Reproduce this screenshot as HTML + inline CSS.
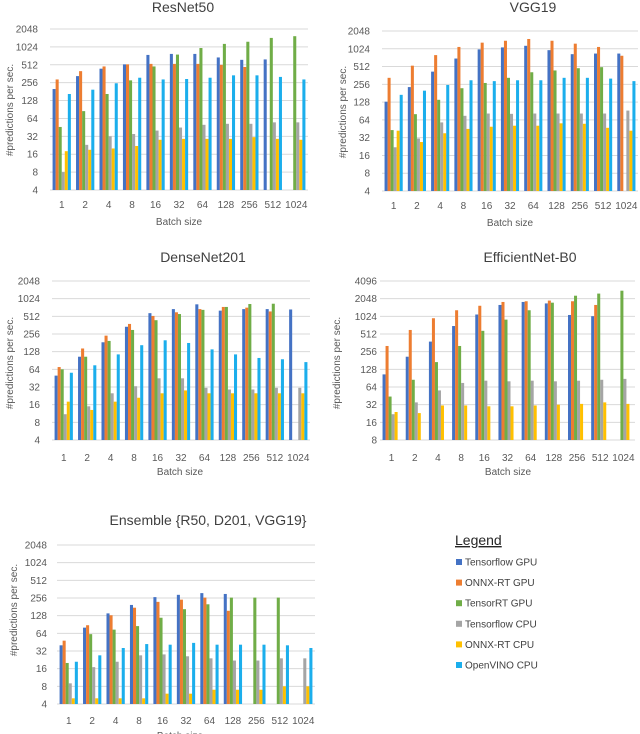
<!DOCTYPE html>
<html><head><meta charset="utf-8">
<style>
html,body{margin:0;padding:0;background:#fff;}
svg{display:block;font-family:"Liberation Sans",sans-serif;}
</style></head>
<body>
<svg id="chart" width="640" height="734" viewBox="0 0 640 734" xmlns="http://www.w3.org/2000/svg"></svg>
<script>
const batchSizes = ["1","2","4","8","16","32","64","128","256","512","1024"];
const seriesNames = ["Tensorflow GPU","ONNX-RT GPU","TensorRT GPU","Tensorflow CPU","ONNX-RT CPU","OpenVINO CPU"];

const r50TfGpu   = [200,330,440,520,750,780,780,680,620,630,null];
const r50OnnxGpu = [290,400,480,520,530,530,530,510,470,null,null];
const r50TrtGpu  = [46,85,165,280,480,760,980,1150,1250,1450,1550];
const r50TfCpu   = [8,23,32,35,40,45,50,52,52,55,55];
const r50OnnxCpu = [18,19,20,22,28,29,29,29,31,29,28];
const r50OvCpu   = [165,195,250,310,290,295,310,340,340,320,290];

const vggTfGpu   = [130,230,420,700,1000,1080,1150,970,830,850,850];
const vggOnnxGpu = [330,530,800,1100,1300,1400,1500,1400,1250,1100,780];
const vggTrtGpu  = [43,80,140,220,270,330,410,440,480,500,null];
const vggTfCpu   = [22,31,58,75,82,81,82,82,82,82,92];
const vggOnnxCpu = [42,27,38,45,49,51,51,56,55,47,42];
const vggOvCpu   = [170,200,250,300,290,300,300,330,330,320,290];

const d201TfGpu   = [50,105,185,340,580,680,820,640,680,680,670];
const d201OnnxGpu = [70,145,240,380,520,600,680,740,720,620,null];
const d201TrtGpu  = [64,105,195,300,440,560,660,740,830,840,null];
const d201TfCpu   = [11,15,25,33,45,45,31,29,29,31,31];
const d201OnnxCpu = [18,13,18,21,25,28,25,25,25,25,25];
const d201OvCpu   = [56,75,115,165,200,180,140,115,100,95,85];

const effTfGpu   = [105,210,380,700,1100,1600,1800,1700,1080,1030,null];
const effOnnxGpu = [320,600,950,1300,1550,1800,1850,1900,1850,1600,null];
const effTrtGpu  = [44,85,170,320,580,900,1300,1750,2300,2500,2800];
const effTfCpu   = [22,35,56,75,82,80,82,80,82,85,88];
const effOnnxCpu = [24,23,31,31,30,30,31,32,33,35,33];
const effOvCpu   = [null,null,null,null,null,null,null,null,null,null,null];

const ensTfGpu   = [40,80,140,195,265,290,310,300,null,null,null];
const ensOnnxGpu = [48,88,130,175,220,240,260,155,null,null,null];
const ensTrtGpu  = [20,62,74,85,118,165,200,260,260,260,null];
const ensTfCpu   = [9,17,21,27,28,26,24,22,22,24,24];
const ensOnnxCpu = [5,5,5,5,6,6,7,7,7,8,8];
const ensOvCpu   = [21,27,36,42,41,44,41,41,41,40,36];

const colors = ["#4472C4","#ED7D31","#70AD47","#A5A5A5","#FFC000","#1BAEEC"];
const NS = "http://www.w3.org/2000/svg";
const svg = document.getElementById("chart");

function mk(tag, attrs, parent, text){
  const e = document.createElementNS(NS, tag);
  for (const k in attrs) e.setAttribute(k, attrs[k]);
  if (text !== undefined) e.textContent = text;
  (parent || svg).appendChild(e);
  return e;
}

function panel(cfg, series){
  const g = mk("g", {});
  
  
  const nE = cfg.maxExp - cfg.minExp;
  const yScale = v => cfg.yBot - (Math.log2(v) - cfg.minExp) / nE * (cfg.yBot - cfg.yTop);
  const G = (cfg.x1 - cfg.x0) / batchSizes.length;
  const bw = G * 0.13;
  for (let e = cfg.minExp; e <= cfg.maxExp; e++){
    const y = yScale(Math.pow(2, e));
    const gl = mk("line", {x1: cfg.x0, x2: cfg.x1, y1: y, y2: y, stroke: "#d9d9d9", "stroke-width": 1}, g);
    
    
    const t = mk("text", {x: cfg.tickRight, y: y + 3.5, "text-anchor": "end", "font-size": 10, fill: "#595959"}, g, String(Math.pow(2, e)));
    
    
  }
  series.forEach((arr, s) => {
    arr.forEach((v, i) => {
      if (v == null) return;
      const cx = cfg.x0 + G * i + G / 2;
      const x = cx - 3 * bw + s * bw;
      const y = yScale(v);
      const r = mk("rect", {x: x, y: y, width: bw, height: cfg.yBot - y, fill: colors[s]}, g);
      
      
    });
  });
  batchSizes.forEach((b, i) => {
    const t = mk("text", {x: cfg.x0 + G * i + G / 2, y: cfg.xLabelY, "text-anchor": "middle", "font-size": 10, fill: "#595959"}, g, b);
    
    
  });
  const tt = mk("text", {x: cfg.titleX, y: cfg.titleY, "text-anchor": "middle", "font-size": 14, fill: "#404040"}, g, cfg.title);
  
  
  const xt = mk("text", {x: cfg.batchX, y: cfg.batchY, "text-anchor": "middle", "font-size": 10, fill: "#595959"}, g, "Batch size");
  
  
  const yt = mk("text", {x: 0, y: 0, "text-anchor": "middle", "font-size": 10, fill: "#595959", transform: "translate(" + cfg.yLabX + "," + cfg.yLabY + ") rotate(-90)"}, g, "#predictions per sec.");
  
  
}

panel({name:"resnet50-chart", title:"ResNet50", x0:50, x1:308, yTop:29, yBot:190, minExp:2, maxExp:11, tickRight:38, xLabelY:208, titleX:183, titleY:12, batchX:179, batchY:225, yLabX:13, yLabY:110},
  [r50TfGpu, r50OnnxGpu, r50TrtGpu, r50TfCpu, r50OnnxCpu, r50OvCpu]);
panel({name:"vgg19-chart", title:"VGG19", x0:382, x1:638, yTop:31, yBot:191, minExp:2, maxExp:11, tickRight:370, xLabelY:209, titleX:533, titleY:12, batchX:510, batchY:226, yLabX:346, yLabY:112},
  [vggTfGpu, vggOnnxGpu, vggTrtGpu, vggTfCpu, vggOnnxCpu, vggOvCpu]);
panel({name:"densenet201-chart", title:"DenseNet201", x0:52, x1:310, yTop:281, yBot:440, minExp:2, maxExp:11, tickRight:40, xLabelY:461, titleX:203, titleY:262, batchX:180, batchY:475, yLabX:13, yLabY:363},
  [d201TfGpu, d201OnnxGpu, d201TrtGpu, d201TfCpu, d201OnnxCpu, d201OvCpu]);
panel({name:"efficientnet-b0-chart", title:"EfficientNet-B0", x0:380, x1:635, yTop:281, yBot:440, minExp:3, maxExp:12, tickRight:377, xLabelY:461, titleX:530, titleY:262, batchX:508, batchY:475, yLabX:340, yLabY:363},
  [effTfGpu, effOnnxGpu, effTrtGpu, effTfCpu, effOnnxCpu, effOvCpu]);
panel({name:"ensemble-chart", title:"Ensemble {R50, D201, VGG19}", x0:57, x1:315, yTop:545, yBot:704, minExp:2, maxExp:11, tickRight:47, xLabelY:724, titleX:208, titleY:525, batchX:180, batchY:739, yLabX:17, yLabY:610},
  [ensTfGpu, ensOnnxGpu, ensTrtGpu, ensTfCpu, ensOnnxCpu, ensOvCpu]);

const lg = mk("g", {});


const lt = mk("text", {x: 455, y: 545, "font-size": 14, fill: "#262626", "text-decoration": "underline"}, lg, "Legend");


seriesNames.forEach((n, i) => {
  const y = 562 + i * 20.6;
  const sq = mk("rect", {x: 456, y: y - 3, width: 6, height: 6, fill: colors[i]}, lg);
  
  
  const t = mk("text", {x: 465, y: y + 3.5, "font-size": 10, fill: "#404040"}, lg, n);
  
  
});
</script>
</body></html>
